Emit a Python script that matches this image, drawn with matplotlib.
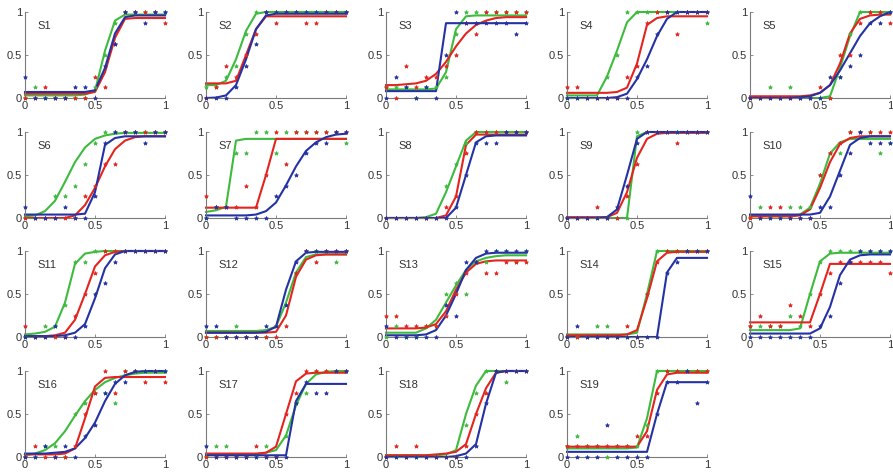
#!/usr/bin/env python3
import numpy as np
import matplotlib
matplotlib.use("Agg")
import matplotlib.pyplot as plt

plt.rcParams["font.family"] = ["Liberation Sans", "DejaVu Sans"]

# stimulus levels (15 steps from 0 to 1)
levels = [0, 1/14, 2/14, 3/14, 4/14, 5/14, 6/14, 7/14, 8/14, 9/14, 10/14, 11/14, 12/14, 13/14, 1]
subjects = ["S%d" % i for i in range(1, 20)]

# fitted curves, one row per subject
green_fit = [
    [.03, .03, .03, .03, .03, .03, .04, .08, .55, .9, .97, .97, .97, .97, .97],
    [.15, .15, .2, .45, .78, .98, 1, 1, 1, 1, 1, 1, 1, 1, 1],
    [.1, .1, .1, .1, .1, .11, .3, .8, .95, .96, .96, .96, .96, .96, .96],
    [.03, .03, .03, .03, .25, .55, .88, 1, 1, 1, 1, 1, 1, 1, 1],
    [0, 0, 0, 0, 0, 0, 0, 0, .02, .35, .72, 1, 1, 1, 1],
    [.02, .03, .08, .2, .42, .65, .82, .92, .96, .98, .99, .99, .99, .99, .99],
    [.07, .09, .13, .9, .92, .92, .92, .92, .92, .92, .92, .92, .92, .92, .92],
    [0, 0, 0, 0, .01, .05, .3, .6, .9, 1, 1, 1, 1, 1, 1],
    [0, 0, 0, 0, 0, 0, 0, .95, 1, 1, 1, 1, 1, 1, 1],
    [.02, .02, .02, .02, .02, .04, .12, .4, .75, .88, .92, .92, .92, .92, .92],
    [.03, .04, .06, .12, .4, .85, .97, .99, 1, 1, 1, 1, 1, 1, 1],
    [.07, .07, .07, .07, .07, .07, .08, .12, .4, .75, .93, .96, .96, .96, .96],
    [.05, .05, .05, .05, .1, .2, .4, .6, .78, .88, .92, .94, .95, .95, .95],
    [.03, .03, .03, .03, .03, .03, .03, .05, .5, 1, 1, 1, 1, 1, 1],
    [.08, .08, .08, .08, .08, .1, .5, .88, .97, .98, .98, .98, .98, .98, .98],
    [.02, .04, .08, .16, .3, .48, .65, .78, .87, .92, .95, .97, .98, .98, .98],
    [.03, .03, .03, .03, .03, .03, .05, .08, .25, .6, .85, .96, .99, 1, 1],
    [.02, .02, .02, .02, .02, .02, .03, .08, .5, .83, 1, 1, 1, 1, 1],
    [.1, .1, .1, .1, .1, .1, .1, .11, .45, 1, 1, 1, 1, 1, 1],
]
red_fit = [
    [.05, .05, .05, .05, .05, .05, .05, .07, .3, .7, .92, .93, .93, .93, .93],
    [.17, .17, .17, .2, .5, .8, .95, .95, .95, .95, .95, .95, .95, .95, .95],
    [.15, .15, .16, .17, .2, .28, .42, .6, .75, .85, .9, .93, .94, .94, .94],
    [.06, .06, .06, .06, .06, .07, .12, .4, .85, .93, .95, .95, .95, .95, .95],
    [.02, .02, .02, .02, .02, .02, .03, .06, .15, .4, .75, .92, .96, .97, .97],
    [0, 0, 0, 0, 0, .03, .15, .35, .6, .8, .9, .94, .95, .95, .95],
    [.12, .12, .12, .12, .12, .12, .5, .92, .92, .92, .92, .92, .92, .92, .92],
    [0, 0, 0, 0, 0, 0, .03, .25, .85, .97, .97, .97, .97, .97, .97],
    [.01, .01, .01, .01, .01, .06, .3, .7, .92, .98, .99, .99, .99, .99, .99],
    [.02, .02, .02, .02, .02, .03, .1, .35, .65, .86, .93, .95, .95, .95, .95],
    [.01, .01, .01, .02, .05, .2, .5, .82, .95, .99, 1, 1, 1, 1, 1],
    [.05, .05, .05, .05, .05, .05, .05, .06, .25, .7, .9, .95, .96, .96, .96],
    [.1, .1, .1, .1, .11, .15, .3, .55, .75, .85, .88, .89, .89, .89, .89],
    [.02, .02, .02, .02, .02, .02, .03, .08, .45, .88, .98, .99, .99, .99, .99],
    [.17, .17, .17, .17, .17, .17, .17, .5, .85, .85, .85, .85, .85, .85, .85],
    [.03, .03, .03, .03, .04, .1, .45, .82, .92, .93, .93, .93, .93, .93, .93],
    [.04, .04, .04, .04, .04, .04, .05, .12, .5, .88, .97, .98, .98, .98, .98],
    [.02, .02, .02, .02, .02, .03, .04, .06, .15, .5, .8, .98, 1, 1, 1],
    [.12, .12, .12, .12, .12, .12, .12, .12, .3, .78, .96, .98, .98, .98, .98],
]
blue_fit = [
    [.07, .07, .07, .07, .07, .07, .07, .09, .35, .75, .94, .96, .96, .96, .96],
    [0, .005, .03, .15, .45, .8, .96, .98, .98, .98, .98, .98, .98, .98, .98],
    [.08, .08, .08, .08, .08, .08, .87, .87, .87, .87, .87, .87, .87, .87, .87],
    [0, 0, 0, 0, 0, .01, .05, .22, .45, .72, .92, 1, 1, 1, 1],
    [0, 0, 0, 0, 0, .01, .02, .06, .15, .32, .52, .72, .87, .95, 1],
    [.04, .04, .04, .04, .04, .04, .05, .3, .85, .93, .95, .95, .95, .95, .95],
    [.03, .03, .03, .03, .03, .04, .08, .18, .38, .6, .78, .88, .94, .97, .98],
    [0, 0, 0, 0, 0, 0, 0, .12, .5, .88, .95, .96, .96, .96, .96],
    [0, 0, 0, 0, .01, .1, .5, .92, 1, 1, 1, 1, 1, 1, 1],
    [.04, .04, .04, .04, .04, .04, .04, .06, .25, .55, .85, .93, .95, .95, .95],
    [.01, .01, .01, .01, .02, .05, .15, .45, .8, .96, 1, 1, 1, 1, 1],
    [.05, .05, .05, .05, .05, .05, .06, .12, .55, .88, .98, .99, .99, .99, .99],
    [.02, .02, .02, .02, .03, .08, .25, .5, .78, .92, .97, .98, .98, .98, .98],
    [0, 0, 0, 0, 0, 0, 0, 0, 0, 0, .75, .92, .92, .92, .92],
    [.04, .04, .04, .04, .04, .04, .04, .1, .35, .72, .9, .95, .96, .96, .96],
    [.04, .04, .04, .05, .06, .1, .22, .4, .65, .85, .95, .99, 1, 1, 1],
    [.02, .02, .02, .02, .02, .02, .02, .02, .02, .65, .85, .85, .85, .85, .85],
    [0, 0, 0, 0, 0, 0, 0, .01, .04, .15, .62, .98, 1, 1, 1],
    [.06, .06, .06, .06, .06, .06, .06, .06, .06, .5, .87, .87, .87, .87, .87],
]

# observed proportions (8 trials per level)
green_obs = [
    [0, .125, 0, 0, 0, 0, 0, .125, .5, .875, 1, 1, 1, 1, 1],
    [.125, .125, .25, .375, .75, 1, 1, 1, 1, 1, 1, 1, 1, 1, 1],
    [.125, .125, .125, 0, .125, .125, .25, .75, 1, 1, 1, 1, 1, 1, 1],
    [0, 0, 0, 0, .25, .5, 1, 1, 1, 1, 1, 1, 1, 1, .875],
    [0, 0, .125, 0, .125, 0, 0, 0, 0, .25, .75, 1, 1, 1, 1],
    [0, 0, 0, .25, .25, .375, .625, .875, 1, 1, 1, 1, 1, 1, 1],
    [0, .125, .125, .75, .75, 1, 1, .75, 1, 1, 1, 1, 1, 1, .875],
    [0, 0, 0, 0, 0, 0, .375, .625, .875, 1, 1, 1, 1, 1, 1],
    [0, 0, 0, 0, 0, 0, 0, 1, 1, 1, 1, 1, 1, 1, 1],
    [0, .125, 0, 0, .125, .125, .125, .5, .75, .75, 1, 1, 1, .75, .875],
    [0, 0, .125, .125, .375, .875, .875, 1, 1, 1, 1, 1, 1, 1, 1],
    [0, 0, 0, .125, 0, 0, 0, .125, .375, .75, 1, 1, 1, .875, 1],
    [0, .125, 0, 0, .125, .125, .5, .625, .5, .875, .875, 1, 1, .875, 1],
    [0, 0, 0, .125, .125, 0, 0, 0, .5, 1, 1, 1, 1, 1, 1],
    [.125, .125, .125, .125, .25, .125, .5, .875, 1, 1, 1, 1, 1, 1, 1],
    [0, 0, .125, .125, 0, .5, .625, .75, .75, .625, 1, 1, 1, 1, 1],
    [0, .125, .125, 0, 0, 0, .125, 0, .25, .625, .75, 1, 1, 1, 1],
    [0, 0, 0, 0, 0, 0, 0, 0, .375, .75, 1, 1, .875, 1, 1],
    [.125, .25, .125, .125, 0, .125, .125, .125, .375, 1, 1, 1, 1, 1, 1],
]
red_obs = [
    [0, 0, .125, 0, 0, 0, 0, .25, .125, .625, 1, 1, 1, 1, .875],
    [0, .125, .375, .25, .5, .75, 1, .875, 1, 1, .875, .875, 1, 1, 1],
    [.125, 0, .375, .125, .25, .25, .375, .5, .875, .75, 1, 1, 1, 1, 1],
    [.125, .125, 0, 0, 0, 0, .25, .375, .875, 1, 1, .75, 1, 1, 1],
    [0, 0, 0, 0, 0, 0, 0, .125, 0, .5, .5, .875, 1, 1, .875],
    [0, 0, 0, 0, 0, 0, .25, .375, .625, .625, 1, 1, 1, 1, 1],
    [.25, .125, .125, .125, .375, .125, .5, 1, .625, 1, 1, 1, 1, 1, 1],
    [0, 0, 0, 0, 0, 0, .125, .25, .75, 1, 1, 1, 1, 1, 1],
    [0, 0, 0, .125, 0, 0, .25, .625, 1, 1, 1, .875, 1, 1, 1],
    [0, 0, .125, .125, 0, 0, 0, .5, .75, .875, 1, 1, 1, 1, 1],
    [.125, 0, 0, 0, 0, .25, .5, .75, 1, 1, 1, 1, 1, 1, 1],
    [0, 0, 0, 0, 0, 0, 0, 0, .125, .75, 1, .875, 1, 1, 1],
    [.25, .25, .125, .125, .125, .125, .25, .5, .75, .875, .75, .75, .875, .875, .875],
    [0, 0, 0, 0, 0, 0, .125, 0, .5, .875, 1, 1, 1, 1, 1],
    [.125, .25, .125, .125, .375, .25, .125, .5, .75, .875, .875, .875, .875, .875, .75],
    [0, .125, 0, 0, 0, .125, .5, .75, 1, .75, 1, 1, .875, 1, .875],
    [0, 0, 0, 0, 0, .125, 0, 0, .5, .75, 1, 1, 1, 1, 1],
    [0, .125, 0, .125, 0, 0, 0, 0, .125, .5, .75, 1, 1, 1, 1],
    [.125, .125, .125, .125, .125, .125, .125, .25, .25, .75, 1, 1, 1, 1, 1],
]
blue_obs = [
    [.25, 0, 0, 0, 0, .125, .125, 0, .375, .625, 1, 1, .875, 1, 1],
    [0, 0, 0, .125, .375, .625, 1, 1, 1, 1, 1, 1, 1, 1, 1],
    [0, .25, .125, 0, .125, 0, .5, 1, .875, .875, .875, .875, .875, .75, .875],
    [0, 0, 0, 0, 0, 0, 0, .25, .375, .75, 1, 1, 1, 1, 1],
    [0, 0, 0, 0, 0, 0, 0, 0, .25, .25, .375, .5, .875, .875, 1],
    [.125, 0, 0, 0, .125, 0, 0, .25, .875, 1, 1, 1, .875, 1, 1],
    [0, .125, .125, 0, 0, 0, 0, .25, .375, .5, .75, .875, .875, 1, 1],
    [0, 0, 0, 0, 0, 0, 0, .125, .5, .875, .875, .875, 1, 1, 1],
    [0, 0, 0, 0, 0, .125, .375, .875, 1, 1, 1, 1, 1, 1, 1],
    [.25, 0, 0, 0, 0, 0, 0, .125, .125, .5, .75, 1, .875, .875, .875],
    [0, 0, 0, .125, 0, 0, .125, .5, .625, .875, 1, 1, 1, 1, 1],
    [.125, .125, 0, 0, 0, 0, .125, .125, .375, .875, 1, 1, 1, 1, 1],
    [.125, 0, 0, 0, 0, 0, .375, .25, .875, .875, 1, 1, 1, 1, 1],
    [0, .125, 0, 0, 0, 0, 0, 0, 0, 0, .75, .875, 1, 1, 1],
    [0, 0, 0, 0, 0, 0, 0, .125, .25, .625, .875, 1, 1, 1, 1],
    [0, 0, .125, 0, .125, 0, .25, .375, .75, .875, .875, 1, 1, 1, 1],
    [.125, 0, 0, 0, 0, 0, 0, 0, 0, .625, .875, .75, .75, 1, 1],
    [0, 0, 0, 0, 0, 0, 0, 0, 0, .125, .625, 1, 1, 1, 1],
    [0, 0, 0, 0, .375, 0, 0, 0, 0, .5, .875, .875, 1, .625, .875],
]

GREEN = "#3dbb3d"
RED = "#e3241f"
BLUE = "#2432a4"
AXIS_GRAY = "#7a7a7a"

W, H = 893, 474
fig = plt.figure(figsize=(W / 100, H / 100), dpi=100)

col_left = [25, 206, 386, 567, 750]   # pixel x of y-axis
row_top = [12, 132, 251, 371]         # pixel y of value 1
ax_w, ax_h = 140, 86

series = [
    (green_fit, green_obs, GREEN),
    (red_fit, red_obs, RED),
    (blue_fit, blue_obs, BLUE),
]

for i, name in enumerate(subjects):
    r, c = divmod(i, 5)
    x0, y0 = col_left[c], row_top[r]
    ax = fig.add_axes([x0 / W, 1 - (y0 + ax_h) / H, ax_w / W, ax_h / H])
    for fit, obs, color in series:
        ax.plot(levels, fit[i], color=color, lw=1.5, clip_on=False, zorder=2)
        ax.plot(levels, obs[i], ls="none", marker="*", ms=3, mew=0.5,
                color=color, clip_on=False, zorder=3)
    ax.set_xlim(0, 1)
    ax.set_ylim(0, 1)
    ax.set_xticks([0, 0.5, 1])
    ax.set_yticks([0, 0.5, 1])
    ax.set_xticklabels(["0", "0.5", "1"])
    ax.set_yticklabels(["0", "0.5", "1"])
    for side in ("top", "right"):
        ax.spines[side].set_visible(False)
    for side in ("left", "bottom"):
        ax.spines[side].set_color(AXIS_GRAY)
        ax.spines[side].set_linewidth(0.8)
    ax.tick_params(direction="in", length=2, width=0.6, color=AXIS_GRAY,
                   labelsize=8, labelcolor="#333333", pad=2)
    ax.text(0.09, 0.84, name, transform=ax.transAxes, fontsize=8,
            color="#333333", va="center")

fig.savefig("out.png", dpi=100)
